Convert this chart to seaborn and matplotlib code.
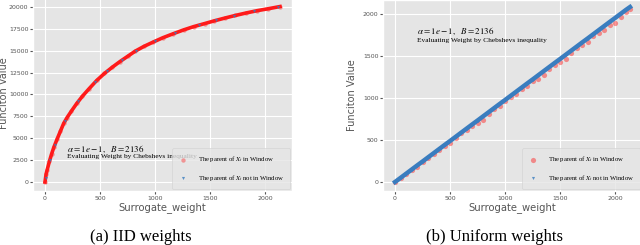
import matplotlib
matplotlib.use("Agg")
import matplotlib.pyplot as plt
import seaborn as sns
import pandas as pd

# (a) IID weights
iid_w = [0, 10, 20, 40, 60, 80, 110, 140, 170, 200, 240, 290, 340, 400, 470, 540,
         610, 680, 750, 820, 900, 985, 1070, 1167, 1260, 1350, 1450, 1540, 1640,
         1730, 1830, 1930, 2030, 2136]
iid_in = [0, 900, 1400, 2350, 3200, 3950, 4900, 5800, 6700, 7350, 8100, 9000, 9800,
          10650, 11600, 12400, 13100, 13750, 14350, 14950, 15500, 16000, 16480,
          16950, 17380, 17750, 18100, 18420, 18750, 19030, 19320, 19580, 19800, 20050]
iid_w_out = [5, 45, 90, 180, 300, 450, 560, 700, 830, 1000, 1180, 1400, 1550, 1720,
             1900, 2120]
iid_out = [450, 2550, 4250, 6950, 9200, 11400, 12650, 13920, 15020, 16080, 17000,
           17980, 18460, 19000, 19500, 20010]

# (b) Uniform weights
uni_w = [0, 50, 100, 150, 200, 250, 300, 350, 400, 450, 500, 550, 600, 650, 700, 750,
         800, 850, 900, 950, 1000, 1050, 1100, 1150, 1200, 1250, 1300, 1350, 1400,
         1450, 1500, 1550, 1600, 1650, 1700, 1750, 1800, 1850, 1900, 1950, 2000,
         2050, 2100, 2136]
uni_out = [0, 49, 98, 147, 196, 244, 293, 342, 391, 440, 488, 537, 586, 635, 684, 732,
           781, 830, 879, 928, 976, 1025, 1074, 1123, 1172, 1220, 1269, 1318, 1367,
           1416, 1464, 1513, 1562, 1611, 1660, 1708, 1757, 1806, 1855, 1904, 1952,
           2001, 2050, 2083]
uni_in = [0, 46, 90, 142, 184, 238, 283, 338, 376, 431, 468, 523, 578, 617, 672, 697,
          741, 808, 864, 900, 966, 1007, 1049, 1111, 1142, 1198, 1231, 1273, 1347,
          1388, 1429, 1463, 1537, 1593, 1630, 1668, 1735, 1771, 1807, 1874, 1897,
          1961, 2018, 2058]

lab_in = r"The parent of $X_t$ in Window"
lab_out = r"The parent of $X_t$ not in Window"
note = r"$\alpha = 1e-1,\ \ B = 2136$"
note2 = "Evaluating Weight by Chebshevs inequality"

plt.style.use("ggplot")
plt.rcParams["mathtext.fontset"] = "stix"
RED = "#ff1a1a"
BLUE = "#3a7dbf"
SERIF = "Liberation Serif"

fig = plt.figure(figsize=(6.4, 2.45), dpi=100)
ax1 = fig.add_axes([0.0519, 0.2214, 0.404, 0.793])
ax2 = fig.add_axes([0.5988, 0.2218, 0.404, 0.777])

# left panel
d_in = pd.DataFrame({"w": iid_w, "v": iid_in})
d_out = pd.DataFrame({"w": iid_w_out, "v": iid_out})
sns.lineplot(data=d_in, x="w", y="v", color=RED, lw=2.6, ax=ax1, zorder=2)
sns.scatterplot(data=d_in, x="w", y="v", color=RED, marker="o", s=10, alpha=0.4,
                linewidth=0, ax=ax1, label=lab_in, zorder=3)
sns.scatterplot(data=d_out, x="w", y="v", color=BLUE, marker="v", s=5, alpha=0.8,
                linewidth=0, ax=ax1, label=lab_out, zorder=4)
ax1.set_xlim(-107, 2243)
ax1.set_ylim(-1000, 21200)
ax1.set_yticks(range(0, 20001, 2500))
ax1.set_xticks(range(0, 2001, 500))
ax1.text(197, 3700, note, fontsize=6.5, va="center")
ax1.text(197, 2890, note2, fontsize=5.3, family=SERIF, va="center")

# right panel
u_in = pd.DataFrame({"w": uni_w, "v": uni_in})
u_out = pd.DataFrame({"w": uni_w, "v": uni_out})
sns.scatterplot(data=u_in, x="w", y="v", color=RED, marker="o", s=14, alpha=0.45,
                linewidth=0, ax=ax2, label=lab_in, zorder=2)
sns.lineplot(data=u_out, x="w", y="v", color=BLUE, lw=3.2, ax=ax2, zorder=3)
sns.scatterplot(data=u_out, x="w", y="v", color=BLUE, marker="v", s=5, alpha=0.8,
                linewidth=0, ax=ax2, label=lab_out, zorder=4)
ax2.set_xlim(-107, 2243)
ax2.set_ylim(-103, 2163)
ax2.set_yticks(range(0, 2001, 500))
ax2.set_xticks(range(0, 2001, 500))
ax2.text(197, 1790, note, fontsize=6.5, va="center")
ax2.text(197, 1685, note2, fontsize=5.3, family=SERIF, va="center")

for ax in (ax1, ax2):
    ax.set_xlabel("Surrogate_weight", fontsize=7.2, color="#555555", labelpad=1)
    ax.set_ylabel("Funciton Value", fontsize=7, color="#555555")
    ax.tick_params(labelsize=4.5, colors="#555555", length=2, pad=1.5)
    leg = ax.legend(loc="lower right", prop={"family": SERIF, "size": 4.8},
                    frameon=True, facecolor="#e5e5e5", edgecolor="#d0d0d0",
                    borderaxespad=0.25, handletextpad=1.4, labelspacing=1.3,
                    borderpad=0.9, handlelength=1.5)

# y labels sit close to the tick labels, the left one near the figure edge
ax1.yaxis.set_label_coords(-0.094, 0.5)
ax2.yaxis.set_label_coords(-0.1, 0.5)

fig.text(0.22, 0.018, "(a) IID weights", fontsize=12, family=SERIF, ha="center",
         va="baseline")
fig.text(0.773, 0.018, "(b) Uniform weights", fontsize=12, family=SERIF, ha="center",
         va="baseline")

fig.savefig("out.png", dpi=100)
